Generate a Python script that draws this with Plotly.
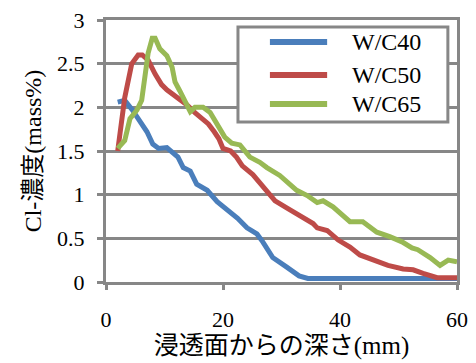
import plotly.graph_objects as go

# ---- data (depth in mm, Cl- concentration in mass%) ----
x_wc40 = [2.0, 3.2, 4.5, 5.8, 7.0, 8.0, 9.0, 10.4, 11.5, 12.3, 13.2, 14.4, 15.5, 17.3,
          19.0, 20.8, 22.5, 24.1, 25.8, 26.8, 28.5, 30.9, 33.0, 34.5, 40.0, 45.0, 50.0,
          55.0, 60.0]
y_wc40 = [2.06, 2.08, 1.97, 1.85, 1.72, 1.58, 1.53, 1.54, 1.47, 1.43, 1.31, 1.27, 1.12, 1.05,
          0.92, 0.83, 0.73, 0.62, 0.55, 0.46, 0.28, 0.17, 0.07, 0.04, 0.04, 0.04, 0.04,
          0.04, 0.04]

x_wc50 = [2.0, 3.2, 4.4, 5.5, 6.2, 7.2, 8.4, 9.5, 10.4, 11.5, 12.5, 13.8, 15.2, 16.3,
          17.5, 18.5, 19.3, 20.0, 21.3, 22.3, 23.3, 25.1, 26.8, 27.5, 28.9, 31.1, 33.7,
          35.4, 36.1, 37.8, 39.7, 41.7, 43.4, 45.6, 48.2, 50.8, 52.5, 54.2, 56.6, 58.0, 60.0]
y_wc50 = [1.50, 2.11, 2.50, 2.60, 2.60, 2.54, 2.38, 2.26, 2.20, 2.15, 2.09, 2.03, 1.94, 1.88,
          1.81, 1.72, 1.64, 1.53, 1.50, 1.43, 1.33, 1.23, 1.09, 1.03, 0.93, 0.84, 0.74,
          0.67, 0.62, 0.59, 0.48, 0.40, 0.31, 0.25, 0.19, 0.15, 0.14, 0.10, 0.05, 0.05, 0.05]

x_wc65 = [2.0, 3.2, 4.1, 5.3, 6.1, 6.7, 7.2, 7.9, 8.4, 9.2, 10.4, 11.3, 11.8, 12.6, 13.5,
          14.4, 15.2, 16.6, 17.8, 19.1, 20.3, 21.5, 22.9, 24.6, 26.3, 27.5, 28.9, 29.7,
          32.6, 34.4, 36.1, 37.1, 38.8, 40.0, 41.7, 43.9, 46.3, 48.5, 50.6, 52.3, 53.3,
          55.4, 57.1, 58.5, 60.0]
y_wc65 = [1.53, 1.62, 1.87, 1.97, 2.08, 2.34, 2.62, 2.79, 2.79, 2.67, 2.59, 2.46, 2.29, 2.19,
          2.06, 1.95, 2.00, 2.00, 1.94, 1.80, 1.66, 1.59, 1.57, 1.43, 1.37, 1.31, 1.26,
          1.22, 1.05, 0.99, 0.91, 0.93, 0.86, 0.79, 0.69, 0.69, 0.57, 0.52, 0.46, 0.39,
          0.37, 0.28, 0.19, 0.25, 0.23]

series_names = ["W/C40", "W/C50", "W/C65"]
series_colors = ["#4A7EBB", "#BE4B48", "#98B954"]
x_ticks = [0, 20, 40, 60]
y_ticks = [0, 0.5, 1, 1.5, 2, 2.5, 3]
y_tick_text = ["0", "0.5", "1", "1.5", "2", "2.5", "3"]
x_title = "浸透面からの深さ(mm)"
y_title = "Cl-濃度(mass%)"

FONT = "Liberation Serif, Noto Sans CJK JP"
GRID = "#878787"

fig = go.Figure()
for xs, ys, name, col in zip([x_wc40, x_wc50, x_wc65], [y_wc40, y_wc50, y_wc65],
                             series_names, series_colors):
    fig.add_trace(go.Scatter(x=xs, y=ys, mode="lines", name=name,
                             line=dict(color=col, width=5), showlegend=False))

# manual legend (box, sample lines, labels) in paper coordinates
fig.add_shape(type="rect", xref="paper", yref="paper", x0=0.376, x1=0.974, y0=0.611, y1=0.973,
              fillcolor="white", line=dict(color=GRID, width=3), layer="above")
rows = [0.916, 0.790, 0.679]
for name, col, yy in zip(series_names, series_colors, rows):
    fig.add_shape(type="line", xref="paper", yref="paper", x0=0.467, x1=0.630, y0=yy, y1=yy,
                  line=dict(color=col, width=6), layer="above")
    fig.add_annotation(xref="paper", yref="paper", x=0.695, y=yy, text=name, showarrow=False,
                       xanchor="left", yanchor="middle",
                       font=dict(family=FONT, size=24, color="black"))

fig.update_layout(
    width=476, height=363,
    margin=dict(l=106, r=19, t=20, b=81),
    paper_bgcolor="white", plot_bgcolor="white",
    font=dict(family=FONT, size=21, color="black"),
)
fig.update_xaxes(
    range=[0, 60], tickvals=x_ticks, ticks="outside", ticklen=5, tickwidth=3, tickcolor=GRID,
    showline=True, linecolor=GRID, linewidth=3, mirror=True, showgrid=False, zeroline=False,
    ticklabelstandoff=11, tickfont=dict(family=FONT, size=22, color="black"), automargin=False,
    title=dict(text=x_title, font=dict(family=FONT, size=25, color="black"), standoff=2),
)
fig.update_yaxes(
    range=[0, 3], tickvals=y_ticks, ticktext=y_tick_text, ticks="outside", ticklen=6,
    tickwidth=3, tickcolor=GRID, showline=True, linecolor=GRID, linewidth=3, mirror=True,
    showgrid=True, gridcolor=GRID, gridwidth=3, zeroline=False, automargin=False,
    ticklabelstandoff=8, tickfont=dict(family=FONT, size=22, color="black"),
    title=dict(text=y_title, font=dict(family=FONT, size=24, color="black"), standoff=9),
)

fig.write_html("out.html", config={"displayModeBar": False},
               post_script="document.body.style.margin='0';")
